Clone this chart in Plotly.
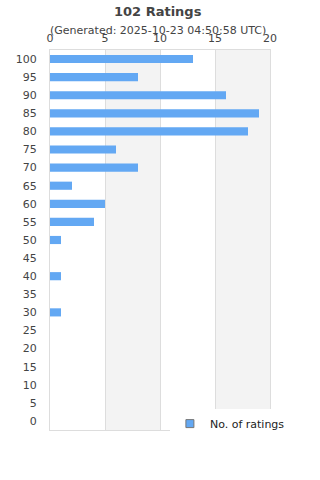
import plotly.graph_objects as go

categories = ["100", "95", "90", "85", "80", "75", "70", "65", "60", "55", "50",
              "45", "40", "35", "30", "25", "20", "15", "10", "5", "0"]
counts = [13, 8, 16, 19, 18, 6, 8, 2, 5, 4, 1, 0, 1, 0, 1, 0, 0, 0, 0, 0, 0]
series_name = "No. of ratings"
title = "102 Ratings"
subtitle = "(Generated: 2025-10-23 04:50:58 UTC)"

font = "DejaVu Sans"
txt = "#444444"

fig = go.Figure()
fig.add_trace(go.Bar(y=categories, x=counts, orientation="h", width=0.45,
                     marker=dict(color="#63a8f3", line=dict(width=0)),
                     showlegend=False, hoverinfo="x+y"))
fig.add_trace(go.Scatter(y=[categories[0]], x=[None], mode="markers", name=series_name,
                         marker=dict(symbol="square", size=8, color="#63a8f3",
                                     line=dict(color="#777777", width=1)),
                         showlegend=True))

shapes = []
for a, b in [(5, 10), (15, 20)]:
    shapes.append(dict(type="rect", xref="x", yref="paper", x0=a, x1=b, y0=0, y1=1,
                       fillcolor="#f3f3f3", line=dict(width=0), layer="below"))

fig.update_layout(
    width=320, height=480,
    margin=dict(l=50, r=50, t=50, b=50),
    paper_bgcolor="white", plot_bgcolor="white",
    font=dict(family=font, color=txt, size=11),
    shapes=shapes,
    barmode="overlay",
    xaxis=dict(side="top", range=[0, 20], dtick=5, showgrid=True, gridcolor="#dddddd",
               zeroline=False, showline=True, linecolor="#dddddd", mirror=True,
               tickfont=dict(size=11, color=txt), ticklabelstandoff=3, fixedrange=True),
    yaxis=dict(type="category", categoryorder="array", categoryarray=categories[::-1],
               range=[-0.5, len(categories) - 0.5],
               showgrid=False, zeroline=False, showline=True, linecolor="#dddddd", mirror=True,
               tickfont=dict(size=11, color=txt), ticklabelstandoff=10, fixedrange=True),
    legend=dict(x=0.545, y=0.055, xanchor="left", yanchor="top", bgcolor="white",
                font=dict(size=11, color="#222222"), borderwidth=0,
                itemwidth=30, tracegroupgap=0),
    annotations=[
        dict(text="<b>" + title + "</b>", xref="paper", yref="paper", x=0.49, y=1,
             yshift=39, xanchor="center", yanchor="middle", showarrow=False,
             font=dict(size=13, color=txt, family=font)),
        dict(text=subtitle, xref="paper", yref="paper", x=0.49, y=1, yshift=20,
             xanchor="center", yanchor="middle", showarrow=False,
             font=dict(size=11, color=txt, family=font)),
    ],
)

fig.write_html("out.html")
